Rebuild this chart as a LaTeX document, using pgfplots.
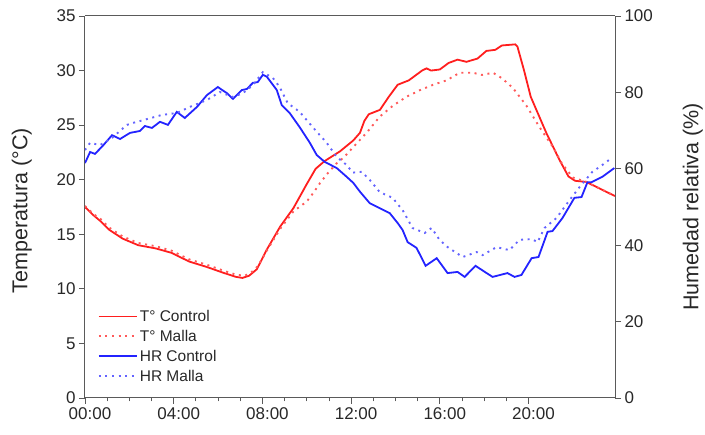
\documentclass[border=0pt]{standalone}
\usepackage{pgfplots}
\pgfplotsset{compat=1.18}
\usepackage{fontspec}
\setmainfont{Liberation Sans}
\definecolor{tc}{RGB}{255,30,30}
\definecolor{tm}{RGB}{255,90,90}
\definecolor{hc}{RGB}{35,35,255}
\definecolor{hm}{RGB}{100,100,255}
\definecolor{axg}{RGB}{90,90,90}
\definecolor{txt}{RGB}{40,40,40}

\pgfplotstableread{
h T
0 17.5
0.35 16.8
0.7 16.2
1.1 15.4
1.7 14.6
2.4 14.0
3.2 13.7
3.9 13.3
4.7 12.5
5.5 12.0
6.2 11.5
6.8 11.1
7.1 11.0
7.4 11.2
7.75 11.8
8.2 13.6
8.8 15.7
9.4 17.4
10.0 19.6
10.4 21.0
10.8 21.7
11.5 22.6
12.1 23.6
12.4 24.3
12.6 25.4
12.8 26.0
13.3 26.4
13.7 27.6
14.1 28.7
14.6 29.1
15.2 30.0
15.4 30.2
15.6 30.0
16.0 30.1
16.4 30.7
16.8 31.0
17.2 30.8
17.7 31.1
18.1 31.8
18.5 31.9
18.8 32.3
19.4 32.4
19.5 32.2
19.8 30.0
20.1 27.6
20.8 24.3
21.4 21.8
21.8 20.3
22.1 19.9
22.6 19.8
23.2 19.2
23.9 18.5
}\tcontrol

\pgfplotstableread{
h T
0 17.6
0.35 16.9
0.7 16.4
1.1 15.6
1.7 14.8
2.4 14.2
3.2 13.9
3.9 13.5
4.7 12.7
5.5 12.2
6.2 11.7
6.8 11.3
7.2 11.2
7.5 11.5
7.8 12.1
8.2 13.5
8.8 15.5
9.4 17.1
10.0 18.0
10.3 18.8
10.6 19.7
10.95 20.6
11.35 21.5
11.7 22.1
12.1 23.0
12.7 24.3
13.3 25.8
13.9 26.8
14.5 27.6
15.1 28.2
15.7 28.7
16.3 29.1
16.9 29.8
17.5 29.8
17.9 29.6
18.4 29.8
18.8 29.3
19.3 28.4
19.9 26.8
20.5 24.8
21.1 23.0
21.5 21.5
22.0 20.2
22.6 19.8
23.2 19.2
23.9 18.5
}\tmalla

\pgfplotstableread{
h H
0 61.5
0.23 64.4
0.45 63.9
0.8 66.0
1.22 68.8
1.58 67.8
2.03 69.4
2.48 69.9
2.7 71.2
3.02 70.7
3.38 72.3
3.74 71.5
4.14 74.9
4.5 73.3
5.05 76.2
5.5 79.3
5.99 81.4
6.4 79.8
6.67 78.3
7.07 80.6
7.3 80.9
7.57 82.5
7.79 82.7
8.02 84.6
8.2 84.1
8.65 80.6
8.87 76.7
9.23 74.6
9.68 70.9
10.14 66.8
10.45 63.6
10.81 61.8
11.35 60.2
11.8 57.9
12.1 56.3
12.4 54.0
12.84 51.0
13.29 49.7
13.74 48.4
14.1 45.8
14.32 44.0
14.55 40.8
14.95 39.3
15.36 34.6
15.86 36.6
16.35 32.7
16.8 33.0
17.12 31.7
17.61 34.6
18.11 32.7
18.38 31.7
19.05 32.7
19.37 31.7
19.68 32.2
20.14 36.6
20.45 36.9
20.86 43.5
21.08 43.7
21.53 47.1
22.07 52.4
22.39 52.6
22.66 56.5
22.84 56.5
23.33 57.9
23.87 60.2
}\hcontrol

\pgfplotstableread{
h H
0 64.9
0.23 66.8
0.68 66.2
1.22 68.1
1.89 71.5
2.16 72.0
2.79 73.0
3.47 74.1
4.14 74.6
4.73 76.2
5.5 78.0
6.08 80.1
6.67 78.8
7.12 79.8
7.57 81.9
8.02 85.3
8.47 83.8
8.78 81.4
9.14 77.2
9.68 74.9
10.27 70.9
10.9 66.8
11.35 63.1
11.8 61.0
12.07 59.0
12.48 59.2
12.84 57.1
13.29 53.9
13.87 52.4
14.32 49.2
14.77 44.5
15.32 43.2
15.63 44.5
15.99 41.4
16.35 39.5
17.03 36.9
17.66 38.2
17.93 37.4
18.56 39.5
19.14 38.7
19.59 41.4
20.14 41.6
20.41 40.8
20.72 44.5
21.26 47.1
21.85 51.8
22.3 55.2
22.88 59.2
23.33 61.0
23.74 62.8
}\hmalla

\pgfplotsset{
  common/.style={
    at={(0,0)}, anchor=south west,
    scale only axis, width=530pt, height=382pt,
    xmin=0, xmax=23.9,
    tick align=outside,
    major tick length=6pt, minor tick length=3.5pt,
    tick style={color=axg, line width=0.8pt},
    axis line style={color=axg, line width=1pt},
    ticklabel style={font=\fontsize{17}{19}\selectfont, text=txt},
    label style={font=\fontsize{21.5}{24}\selectfont, text=txt},
    /pgf/number format/assume math mode=true,
    legend image code/.code={\draw[##1] (0pt,0pt) -- (34pt,0pt); \path (0pt,0pt) -- (38pt,0pt);},
  },
  sol/.style={line width=1.8pt},
  dot/.style={line width=1.9pt, dash pattern=on 2pt off 4.6pt},
}

\begin{document}
\begin{tikzpicture}[x=1pt,y=1pt]
\useasboundingbox (-85,-37) rectangle (620,398);
\begin{axis}[common,
  ymin=0, ymax=35, ytick={0,5,...,35},
  axis y line*=left,
  xtick={0,4,...,20},
  xticklabels={00:00,04:00,08:00,12:00,16:00,20:00},
  xticklabel style={xshift=5pt},
  minor x tick num=3,
  xtick pos=left,
  ylabel={Temperatura (°C)},
  ylabel style={at={(axis description cs:-0.119,0.49)}, anchor=center},
]
\addplot[tc, sol] table[x=h,y=T] {\tcontrol};
\addplot[tm, dot] table[x=h,y=T] {\tmalla};
\end{axis}
\begin{axis}[common,
  ymin=0, ymax=100, ytick={0,20,...,100},
  axis y line*=right,
  axis x line=none,
  ylabel={Humedad relativa (\%)},
  ylabel style={at={(axis description cs:1.147,0.5)}, anchor=center},
  legend style={at={(axis description cs:0.024,0.236)}, anchor=north west,
    draw=none, fill=none, font=\fontsize{15.5}{17}\selectfont, text=txt,
    row sep=3.2pt, inner sep=0pt},
  legend cell align=left,
]
\addlegendimage{tc, sol}
\addlegendentry{T° Control}
\addlegendimage{tm, dot}
\addlegendentry{T° Malla}
\addplot[hc, sol] table[x=h,y=H] {\hcontrol};
\addlegendentry{HR Control}
\addplot[hm, dot] table[x=h,y=H] {\hmalla};
\addlegendentry{HR Malla}
\end{axis}
\end{tikzpicture}
\end{document}
